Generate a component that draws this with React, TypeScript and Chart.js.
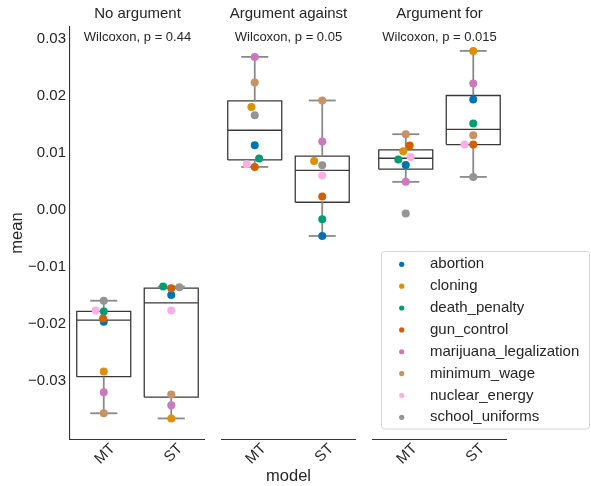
import React, { useEffect, useRef } from "react";
import { Chart, registerables } from "chart.js";

Chart.register(...registerables);

const PANELS = ["No argument", "Argument against", "Argument for"];
const P_LABELS = ["Wilcoxon, p = 0.44", "Wilcoxon, p = 0.05", "Wilcoxon, p = 0.015"];
const MODELS = ["MT", "ST"];
const TOPICS = [
  "abortion",
  "cloning",
  "death_penalty",
  "gun_control",
  "marijuana_legalization",
  "minimum_wage",
  "nuclear_energy",
  "school_uniforms",
];
const COLORS = ["#0173b2", "#de8f05", "#029e73", "#d55e00", "#cc78bc", "#ca9161", "#fbafe4", "#949494"];

// order of each array: [No arg MT, No arg ST, Against MT, Against ST, For MT, For ST]
const abortion = [-0.0196, -0.0149, 0.01131, -0.00457, 0.00786, 0.01931];
const cloning = [-0.0283, -0.0365, 0.01802, 0.00856, 0.01026, 0.02782];
const death_penalty = [-0.0178, -0.01343, 0.00898, -0.00165, 0.00881, 0.01511];
const gun_control = [-0.019, -0.01373, 0.00751, 0.00233, 0.01126, 0.01143];
const marijuana_legalization = [-0.0319, -0.0342, 0.02677, 0.01196, 0.0049, 0.02211];
const minimum_wage = [-0.0356, -0.0323, 0.02229, 0.01914, 0.01324, 0.01306];
const nuclear_energy = [-0.0176, -0.01763, 0.00798, 0.006, 0.00926, 0.01143];
const school_uniforms = [-0.0159, -0.01355, 0.01656, 0.00781, -0.00065, 0.00576];
const VALUES = [abortion, cloning, death_penalty, gun_control, marijuana_legalization, minimum_wage, nuclear_energy, school_uniforms];

// horizontal strip jitter (category units)
const jitter_abortion = [0, 0, 0, 0, 0, 0];
const jitter_cloning = [0, 0, -0.05, -0.12, -0.037, 0];
const jitter_death_penalty = [0, -0.12, 0.065, 0, -0.11, 0];
const jitter_gun_control = [-0.01, 0, 0, 0, 0.058, 0];
const jitter_marijuana = [0, 0, 0, 0, 0, 0];
const jitter_minimum_wage = [0, 0, 0, 0, 0, 0];
const jitter_nuclear_energy = [-0.12, 0, -0.12, 0, 0.072, -0.13];
const jitter_school_uniforms = [0, 0.12, 0, 0, 0, 0];
const JITTER = [
  jitter_abortion,
  jitter_cloning,
  jitter_death_penalty,
  jitter_gun_control,
  jitter_marijuana,
  jitter_minimum_wage,
  jitter_nuclear_energy,
  jitter_school_uniforms,
];

const Y_TICKS = [-0.03, -0.02, -0.01, 0, 0.01, 0.02, 0.03];
const Y_MIN = -0.0401;
const Y_MAX = 0.032;

const GAP = 0.237;
const FONT = "'Liberation Sans', Arial, sans-serif";
const TEXT = "#262626";

function groupX(g: number) {
  const p = Math.floor(g / 2);
  const m = g % 2;
  return p * (2 + GAP) + 0.5 + m;
}

function quantile(s: number[], q: number) {
  const pos = (s.length - 1) * q;
  const lo = Math.floor(pos);
  const hi = Math.ceil(pos);
  return s[lo] + (s[hi] - s[lo]) * (pos - lo);
}

function boxStats(vals: number[]) {
  const s = [...vals].sort((a, b) => a - b);
  const q1 = quantile(s, 0.25);
  const med = quantile(s, 0.5);
  const q3 = quantile(s, 0.75);
  const iqr = q3 - q1;
  const lo = Math.min(...s.filter((v) => v >= q1 - 1.5 * iqr));
  const hi = Math.max(...s.filter((v) => v <= q3 + 1.5 * iqr));
  return { q1, med, q3, lo, hi };
}

function lineDs(points: { x: number; y: number }[], color: string, width: number) {
  return {
    type: "scatter" as const,
    data: points,
    showLine: true,
    borderColor: color,
    borderWidth: width,
    pointRadius: 0,
    pointHoverRadius: 0,
    fill: false,
    order: 100,
  };
}

const panelPlugin = {
  id: "panelDecor",
  afterDraw(chart: any) {
    const { ctx, chartArea, scales } = chart;
    const xs = scales.x;
    ctx.save();
    for (let p = 0; p < PANELS.length; p++) {
      const start = p * (2 + GAP);
      const x0 = xs.getPixelForValue(start);
      const x1 = xs.getPixelForValue(start + 2);
      ctx.strokeStyle = "#333333";
      ctx.lineWidth = 1.1;
      ctx.beginPath();
      ctx.moveTo(x0, chartArea.bottom + 0.5);
      ctx.lineTo(x1, chartArea.bottom + 0.5);
      ctx.stroke();
      const cx = (x0 + x1) / 2;
      ctx.fillStyle = TEXT;
      ctx.textAlign = "center";
      ctx.textBaseline = "middle";
      ctx.font = `15px ${FONT}`;
      ctx.fillText(PANELS[p], cx, 14);
      ctx.font = `13px ${FONT}`;
      ctx.fillText(P_LABELS[p], cx, 37);
    }
    // legend
    const lx = 381.5;
    const ly = 251.5;
    const lw = 208;
    const lh = 177.5;
    const r = 3;
    ctx.fillStyle = "rgba(255,255,255,0.8)";
    ctx.strokeStyle = "#d6d6d6";
    ctx.lineWidth = 1;
    ctx.beginPath();
    ctx.moveTo(lx + r, ly);
    ctx.lineTo(lx + lw - r, ly);
    ctx.arcTo(lx + lw, ly, lx + lw, ly + r, r);
    ctx.lineTo(lx + lw, ly + lh - r);
    ctx.arcTo(lx + lw, ly + lh, lx + lw - r, ly + lh, r);
    ctx.lineTo(lx + r, ly + lh);
    ctx.arcTo(lx, ly + lh, lx, ly + lh - r, r);
    ctx.lineTo(lx, ly + r);
    ctx.arcTo(lx, ly, lx + r, ly, r);
    ctx.closePath();
    ctx.fill();
    ctx.stroke();
    ctx.font = `15px ${FONT}`;
    ctx.textAlign = "left";
    ctx.textBaseline = "middle";
    for (let i = 0; i < TOPICS.length; i++) {
      const y = 264.3 + i * 21.86;
      ctx.fillStyle = COLORS[i];
      ctx.beginPath();
      ctx.arc(401.7, y, 2.6, 0, Math.PI * 2);
      ctx.fill();
      ctx.fillStyle = TEXT;
      ctx.fillText(TOPICS[i], 430, y);
    }
    ctx.restore();
  },
};

export default function App() {
  const ref = useRef<HTMLCanvasElement | null>(null);
  useEffect(() => {
    if (!ref.current) return;
    const datasets: any[] = [];
    // points
    TOPICS.forEach((t, i) => {
      datasets.push({
        type: "scatter",
        label: t,
        data: VALUES[i].map((v, g) => ({ x: groupX(g) + JITTER[i][g], y: v })),
        backgroundColor: COLORS[i],
        borderWidth: 0,
        pointRadius: 4,
        pointHoverRadius: 4,
        order: 10 - i,
      });
    });
    // boxes
    for (let g = 0; g < 6; g++) {
      const vals = VALUES.map((arr) => arr[g]);
      const s = boxStats(vals);
      const c = groupX(g);
      const hw = 0.4;
      const cw = 0.2;
      const boxC = "#3a3a3a";
      const whC = "#8a8a8a";
      datasets.push(lineDs([{ x: c, y: s.q3 }, { x: c, y: s.hi }], whC, 1.8));
      datasets.push(lineDs([{ x: c, y: s.q1 }, { x: c, y: s.lo }], whC, 1.8));
      datasets.push(lineDs([{ x: c - cw, y: s.hi }, { x: c + cw, y: s.hi }], whC, 1.8));
      datasets.push(lineDs([{ x: c - cw, y: s.lo }, { x: c + cw, y: s.lo }], whC, 1.8));
      datasets.push(
        lineDs(
          [
            { x: c - hw, y: s.q1 },
            { x: c + hw, y: s.q1 },
            { x: c + hw, y: s.q3 },
            { x: c - hw, y: s.q3 },
            { x: c - hw, y: s.q1 },
          ],
          boxC,
          1.3
        )
      );
      datasets.push(lineDs([{ x: c - hw, y: s.med }, { x: c + hw, y: s.med }], boxC, 1.3));
    }
    const xTicks = [0, 1, 2, 3, 4, 5].map((g) => groupX(g));
    const chart = new Chart(ref.current, {
      type: "scatter",
      data: { datasets },
      plugins: [panelPlugin],
      options: {
        animation: false,
        responsive: false,
        events: [],
        layout: { padding: { left: 4, right: 84, top: 27, bottom: 0 } },
        plugins: { legend: { display: false }, tooltip: { enabled: false } },
        scales: {
          x: {
            type: "linear",
            min: 0,
            max: 6 + 2 * GAP,
            grid: { display: false, drawTicks: false },
            border: { display: false },
            afterBuildTicks: (s: any) => {
              s.ticks = xTicks.map((v) => ({ value: v }));
            },
            afterFit: (s: any) => {
              s.height = 47;
            },
            ticks: {
              autoSkip: false,
              minRotation: 45,
              maxRotation: 45,
              padding: 1,
              labelOffset: 9,
              color: TEXT,
              font: { size: 15, family: FONT },
              callback: (_v: any, idx: number) => MODELS[idx % 2],
            },
            title: {
              display: true,
              text: "model",
              color: TEXT,
              font: { size: 16.5, family: FONT },
              padding: { top: 0, bottom: 0 },
            },
          },
          y: {
            type: "linear",
            min: Y_MIN,
            max: Y_MAX,
            grid: { display: false, drawTicks: false },
            border: { display: true, color: "#333333", width: 1.1 },
            afterBuildTicks: (s: any) => {
              s.ticks = Y_TICKS.map((v) => ({ value: v }));
            },
            afterFit: (s: any) => {
              s.width = 66;
            },
            ticks: {
              padding: 4,
              color: TEXT,
              font: { size: 15, family: FONT },
              callback: (v: any) => {
                const n = Number(v);
                const str = Math.abs(n).toFixed(2);
                return n < -1e-9 ? "\u2212" + str : str;
              },
            },
            title: {
              display: true,
              text: "mean",
              color: TEXT,
              font: { size: 16.5, family: FONT },
              padding: { top: 4, bottom: 0 },
            },
          },
        },
      } as any,
    });
    return () => chart.destroy();
  }, []);
  return (
    <div style={{ position: "absolute", left: 0, top: 0, width: 591, height: 486, background: "#fff" }}>
      <canvas ref={ref} width={591} height={486} style={{ width: 591, height: 486 }} />
    </div>
  );
}
